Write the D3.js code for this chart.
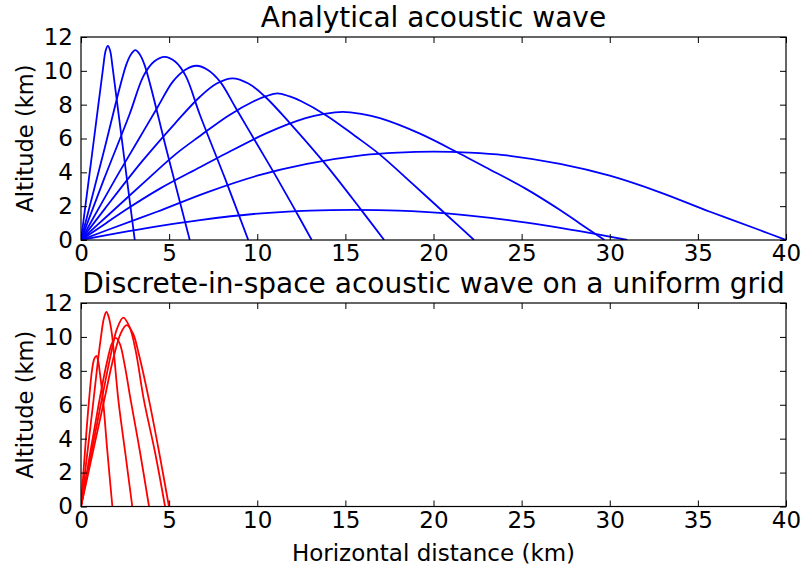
<!DOCTYPE html>
<html lang="en">
<head>
<meta charset="utf-8">
<title>Acoustic wave rays</title>
<script src="https://cdnjs.cloudflare.com/ajax/libs/d3/7.8.5/d3.min.js"></script>
<style>
body { margin: 0; background: #fff; }
svg text { font-family: "DejaVu Sans", sans-serif; fill: #000; }
.axis path { display: none; }
.axis line { stroke: #000; stroke-width: 1; }
</style>
</head>
<body>
<script>
// ray paths, [horizontal km, altitude km]
var blueRay1 = [[0,0],[0.74,6.0],[1.25,10.15],[1.4,11.2],[1.525,11.47],[1.65,11.2],[1.8,10.15],[2.31,6.0],[3.05,0]];
var blueRay2 = [[0,0],[1.28,5.17],[2.56,10.34],[2.85,11.0],[3.085,11.23],[3.32,11.0],[3.61,10.34],[4.89,5.17],[6.17,0]];
var blueRay3 = [[0,0],[1.32,3.64],[2.74,7.39],[3.55,9.7],[4.15,10.55],[4.745,10.83],[5.34,10.55],[5.94,9.7],[6.75,7.39],[8.17,3.64],[9.49,0]];
var blueRay4 = [[0,0],[1.1,2.05],[2.19,4.04],[3.3,6.0],[4.36,7.88],[5.21,9.36],[5.9,10.05],[6.55,10.3],[7.2,10.05],[7.89,9.36],[8.74,7.88],[9.8,6.0],[10.91,4.04],[12.0,2.05],[13.09,0]];
var blueRay5 = [[0,0],[1.37,1.87],[3.45,4.63],[5.34,6.9],[6.75,8.47],[7.7,9.25],[8.6,9.56],[9.5,9.25],[10.45,8.47],[11.86,6.9],[13.75,4.63],[15.83,1.87],[17.2,0]];
var blueRay6 = [[0,0],[1.55,1.48],[3.5,3.33],[5.34,5.05],[6.75,6.15],[8.36,7.35],[9.8,8.2],[10.5,8.5],[11.15,8.67],[11.8,8.5],[12.5,8.2],[13.94,7.35],[15.55,6.15],[16.96,5.05],[18.8,3.33],[20.75,1.48],[22.3,0]];
var blueRay7 = [[0,0],[1.4,0.98],[2.52,1.77],[4.5,3.05],[6.75,4.3],[8.2,5.1],[10.5,6.3],[12.74,7.2],[13.8,7.45],[14.85,7.57],[15.9,7.45],[16.96,7.2],[19.2,6.3],[21.5,5.1],[22.95,4.3],[25.2,3.05],[27.18,1.77],[28.3,0.98],[29.7,0]];
var blueRay8 = [[0,0],[1.5,0.59],[4.31,1.67],[7.15,2.82],[10,3.8],[12.82,4.5],[16,5.02],[18,5.17],[20,5.22],[22,5.17],[24,5.02],[27.18,4.5],[30,3.8],[32.85,2.82],[35.69,1.67],[38.5,0.59],[40,0]];
var blueRay9 = [[0,0],[2.7,0.52],[4.5,0.84],[6.75,1.18],[10.25,1.58],[13,1.74],[15.5,1.78],[18,1.74],[20.75,1.58],[24.25,1.18],[26.5,0.84],[28.3,0.52],[31,0]];

var redRay1 = [[0,0],[0.3,4.3],[0.45,6.2],[0.62,8.0],[0.75,8.7],[0.87,8.88],[0.97,8.6],[1.08,7.8],[1.25,6.27],[1.5,3.2],[1.78,0]];
var redRay2 = [[0,0],[0.68,6.0],[0.95,8.5],[1.12,9.9],[1.3,11.1],[1.44,11.47],[1.58,11.15],[1.75,10.2],[2.12,6.27],[2.52,3.1],[2.91,0]];
var redRay3 = [[0,0],[1.0,6.0],[1.45,8.4],[1.75,9.6],[1.97,9.94],[2.2,9.6],[2.45,8.5],[2.82,6.27],[3.35,3.2],[3.86,0]];
var redRay4 = [[0,0],[1.12,6.0],[1.7,9.0],[2.05,10.5],[2.4,11.14],[2.75,10.6],[3.1,9.2],[3.57,6.27],[4.2,3.2],[4.77,0]];
var redRay5 = [[0,0],[1.26,6.0],[1.85,8.8],[2.25,10.2],[2.59,10.69],[2.95,10.2],[3.3,8.9],[3.86,6.27],[4.45,3.1],[4.99,0]];

var xTicks = [0,5,10,15,20,25,30,35,40];
var yTicks = [0,2,4,6,8,10,12];
var titles = ["Analytical acoustic wave", "Discrete-in-space acoustic wave on a uniform grid"];

var width = 803, height = 571;
var svg = d3.select("body").append("svg")
	.attr("width", width)
	.attr("height", height);

var x = d3.scaleLinear().domain([0, 40]).range([81, 786]);

var panels = [
	{top: 37, bottom: 240, rays: [blueRay1,blueRay2,blueRay3,blueRay4,blueRay5,blueRay6,blueRay7,blueRay8,blueRay9], color: "#0000ff", title: titles[0]},
	{top: 303, bottom: 506.5, rays: [redRay1,redRay2,redRay3,redRay4,redRay5], color: "#ff0000", title: titles[1]}
];

panels.forEach(function(p, i) {
	var y = d3.scaleLinear().domain([0, 12]).range([p.bottom, p.top]);
	var g = svg.append("g");

	g.append("clipPath").attr("id", "clip" + i)
		.append("rect")
		.attr("x", x(0)).attr("y", p.top)
		.attr("width", x(40) - x(0)).attr("height", p.bottom - p.top);

	var line = d3.line()
		.x(function(d) { return x(d[0]); })
		.y(function(d) { return y(d[1]); })
		.curve(d3.curveCatmullRom.alpha(0.5));

	g.append("g").attr("clip-path", "url(#clip" + i + ")")
		.selectAll("path")
		.data(p.rays).enter()
		.append("path")
		.attr("d", line)
		.attr("fill", "none")
		.attr("stroke", p.color)
		.attr("stroke-width", 1.8);

	//ticks point inward on all four sides
	g.append("g").attr("class", "axis")
		.attr("transform", "translate(0," + p.bottom + ")")
		.call(d3.axisBottom(x).tickValues(xTicks).tickSize(-6).tickPadding(5))
		.selectAll("text").style("font-size", "23px");
	g.append("g").attr("class", "axis")
		.attr("transform", "translate(0," + p.top + ")")
		.call(d3.axisTop(x).tickValues(xTicks).tickSize(-6).tickFormat(""));
	g.append("g").attr("class", "axis")
		.attr("transform", "translate(" + x(0) + ",0)")
		.call(d3.axisLeft(y).tickValues(yTicks).tickSize(-6).tickPadding(8))
		.selectAll("text").style("font-size", "23px");
	g.append("g").attr("class", "axis")
		.attr("transform", "translate(" + x(40) + ",0)")
		.call(d3.axisRight(y).tickValues(yTicks).tickSize(-6).tickFormat(""));

	g.append("rect")
		.attr("x", x(0)).attr("y", p.top)
		.attr("width", x(40) - x(0)).attr("height", p.bottom - p.top)
		.attr("fill", "none").attr("stroke", "#000").attr("stroke-width", 1.2);

	g.append("text")
		.attr("x", (x(0) + x(40)) / 2)
		.attr("y", p.top - 10.3)
		.attr("text-anchor", "middle")
		.style("font-size", "28px")
		.text(p.title);

	g.append("text")
		.attr("transform", "translate(33," + (p.top + p.bottom) / 2 + ") rotate(-90)")
		.attr("text-anchor", "middle")
		.style("font-size", "22.6px")
		.text("Altitude (km)");
});

svg.append("text")
	.attr("x", (x(0) + x(40)) / 2)
	.attr("y", 561)
	.attr("text-anchor", "middle")
	.style("font-size", "23px")
	.text("Horizontal distance (km)");
</script>
</body>
</html>
